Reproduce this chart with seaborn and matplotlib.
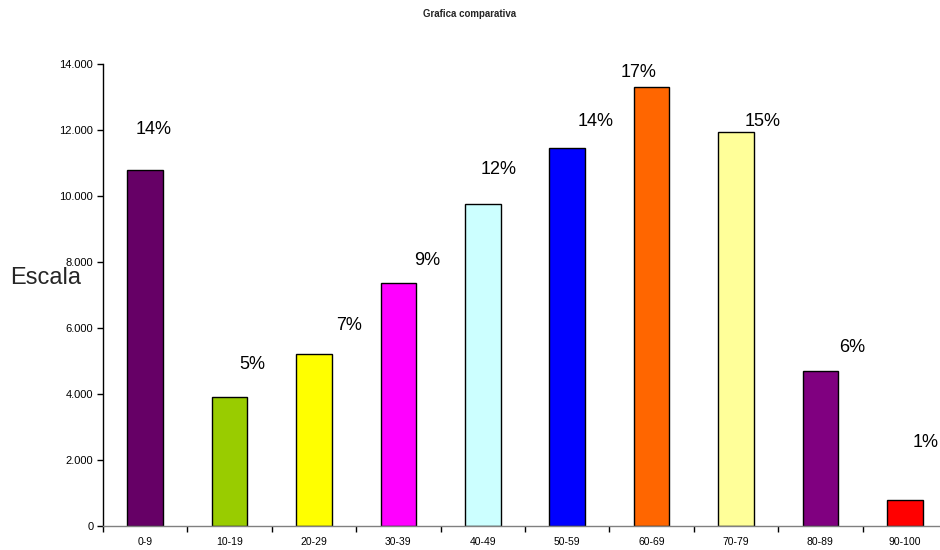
import matplotlib
matplotlib.use("Agg")
import matplotlib.pyplot as plt
import seaborn as sns
import pandas as pd
import numpy as np
from matplotlib.ticker import FuncFormatter, FixedLocator

categories = ["0-9", "10-19", "20-29", "30-39", "40-49", "50-59", "60-69", "70-79", "80-89", "90-100"]
values = [10800, 3920, 5200, 7370, 9770, 11460, 13300, 11940, 4700, 800]
percent_labels = ["14%", "5%", "7%", "9%", "12%", "14%", "17%", "15%", "6%", "1%"]
colors = ["#660066", "#99CC00", "#FFFF00", "#FF00FF", "#CCFFFF", "#0000FF", "#FF6600", "#FFFF99", "#800080", "#FF0000"]

# label placement (layout only): x offset in category units, y in data units
label_dx = [0.1, 0.27, 0.42, 0.34, 0.19, 0.34, -0.15, 0.32, 0.38, 0.25]
label_y = [12000, 4880, 6080, 8060, 10800, 12270, 13740, 12270, 5400, 2520]

sns.set_theme(style="white")
plt.rcParams["font.family"] = ["Liberation Sans", "DejaVu Sans"]

df = pd.DataFrame({"cat": categories, "val": values})

fig = plt.figure(figsize=(9.4, 5.5), dpi=100)
ax = fig.add_axes([103 / 940, 1 - 526 / 550, 844 / 940, (526 - 64) / 550])

sns.barplot(data=df, x="cat", y="val", hue="cat", palette=colors, legend=False,
            width=0.42, edgecolor="black", linewidth=1.0, ax=ax, saturation=1)

ax.set_xlim(-0.5, 9.5)
ax.set_ylim(0, 14000)
ax.set_yticks(np.arange(0, 14001, 2000))
ax.yaxis.set_major_formatter(FuncFormatter(lambda v, p: "0" if v == 0 else f"{int(v):,}".replace(",", ".")))

ax.set_xticks(range(len(categories)))
ax.set_xticklabels(categories)
ax.xaxis.set_minor_locator(FixedLocator(np.arange(-0.5, 9.6, 1.0)))
ax.tick_params(axis="x", which="major", length=0, pad=8, labelsize=7.5, colors="black")
ax.tick_params(axis="x", which="minor", length=4, width=1, color="black", direction="out", bottom=True)
ax.tick_params(axis="y", which="major", length=4, width=1, color="black", direction="out", left=True,
               labelsize=8, labelcolor="black", pad=3)

for s in ["top", "right"]:
    ax.spines[s].set_visible(False)
ax.spines["left"].set_color("black")
ax.spines["left"].set_linewidth(1)
ax.spines["bottom"].set_color("#808080")
ax.spines["bottom"].set_linewidth(1)

ax.set_xlabel("")
ax.set_ylabel("")
fig.text(10 / 940, 1 - 278 / 550, "Escala", fontsize=17, va="center", ha="left",
         family=["Liberation Sans Narrow", "Liberation Sans", "DejaVu Sans"])

for i, (lab, dx, ly) in enumerate(zip(percent_labels, label_dx, label_y)):
    ax.text(i + dx, ly, lab, ha="center", va="center", fontsize=13, color="black", clip_on=False)

fig.text(0.5, 1 - 14 / 550, "Grafica comparativa", ha="center", va="center", fontsize=7, fontweight="bold")

fig.savefig("out.png", dpi=100)
